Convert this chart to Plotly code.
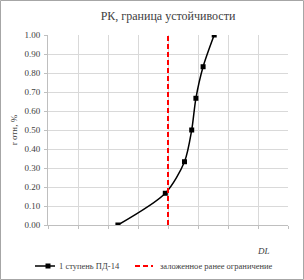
import plotly.graph_objects as go

# Data
stage_x = [2.33, 3.91, 4.55, 4.79, 4.93, 5.17, 5.54]
stage_y = [0.0, 0.167, 0.333, 0.5, 0.667, 0.833, 1.0]
limit_x = [4.0, 4.0]
limit_y = [0.0, 1.0]
series_names = ["1 ступень ПД-14", "заложенное ранее ограничение"]
y_ticks = [0.0, 0.1, 0.2, 0.3, 0.4, 0.5, 0.6, 0.7, 0.8, 0.9, 1.0]

W, H = 304, 280
L, R, T, B = 48, 16, 35, 55
pw, ph = W - L - R, H - T - B

def px(x):
    return (x - L) / pw

def py(y):
    return (H - B - y) / ph

FONT = "Liberation Serif, Times New Roman, serif"
TXT = "#404040"

fig = go.Figure()
fig.add_trace(go.Scatter(
    x=stage_x, y=stage_y, name=series_names[0], mode="lines+markers",
    line=dict(color="black", width=1.5, shape="spline", smoothing=0.8),
    marker=dict(symbol="square", size=5, color="black"),
))
fig.add_trace(go.Scatter(
    x=limit_x, y=limit_y, name=series_names[1], mode="lines",
    line=dict(color="#ff0000", width=2, dash="5px,3px"),
))

LEG_Y = 266
shapes = [
    dict(type="rect", xref="paper", yref="paper",
         x0=px(0.5), x1=px(303.5), y0=py(279.5), y1=py(0.5),
         line=dict(color="#a6a6a6", width=1), fillcolor="rgba(0,0,0,0)", layer="above"),
    dict(type="line", xref="paper", yref="paper",
         x0=px(35), x1=px(55), y0=py(LEG_Y), y1=py(LEG_Y),
         line=dict(color="black", width=1.5)),
    dict(type="rect", xref="paper", yref="paper",
         x0=px(45.5), x1=px(50.5), y0=py(LEG_Y + 2.5), y1=py(LEG_Y - 2.5),
         line=dict(width=0), fillcolor="black"),
    dict(type="line", xref="paper", yref="paper",
         x0=px(135), x1=px(153), y0=py(LEG_Y), y1=py(LEG_Y),
         line=dict(color="#ff0000", width=2, dash="5px,3px")),
]

annotations = [
    dict(text="<i>DL</i>", xref="paper", yref="paper",
         x=px(263), y=py(251), xanchor="center", yanchor="middle",
         showarrow=False, font=dict(family=FONT, size=9, color=TXT)),
    dict(text=series_names[0], xref="paper", yref="paper",
         x=px(57), y=py(LEG_Y), xanchor="left", yanchor="middle",
         showarrow=False, font=dict(family=FONT, size=8.5, color=TXT)),
    dict(text=series_names[1], xref="paper", yref="paper",
         x=px(158), y=py(LEG_Y), xanchor="left", yanchor="middle",
         showarrow=False, font=dict(family=FONT, size=8.5, color=TXT)),
]

fig.update_layout(
    width=W, height=H,
    margin=dict(l=L, r=R, t=T, b=B, autoexpand=False),
    paper_bgcolor="white", plot_bgcolor="white",
    font=dict(family=FONT, size=9, color=TXT),
    title=dict(text="РК, граница устойчивости", x=0.5, xanchor="center",
               xref="paper", y=1 - 16 / H, yanchor="middle",
               font=dict(family=FONT, size=12, color=TXT)),
    showlegend=False,
    xaxis=dict(range=[0, 8], dtick=1, showticklabels=False, showgrid=True,
               gridcolor="#d9d9d9", gridwidth=1, zeroline=False,
               showline=True, linecolor="#bfbfbf", ticks="outside", ticklen=3,
               tickcolor="#bfbfbf", fixedrange=True),
    yaxis=dict(range=[0, 1.0], tickvals=y_ticks,
               ticktext=[f"{v:.2f}" for v in y_ticks],
               showgrid=True, gridcolor="#d9d9d9", gridwidth=1, zeroline=False,
               showline=True, linecolor="#bfbfbf", ticks="outside", ticklen=3,
               tickcolor="#bfbfbf", ticklabelstandoff=2,
               title=dict(text="r отн, %", standoff=5,
                          font=dict(family=FONT, size=9, color=TXT)),
               fixedrange=True),
    annotations=annotations,
    shapes=shapes,
)

fig.write_html("out.html")
